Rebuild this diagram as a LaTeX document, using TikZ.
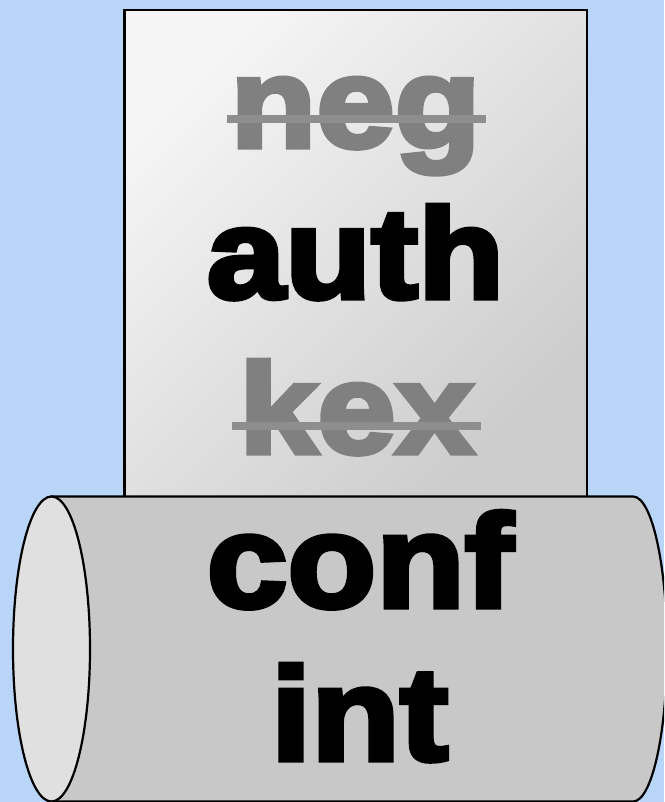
\documentclass[tikz,border=0pt]{standalone}
\usepackage{fontspec}
\setmainfont{Liberation Sans}[BoldFeatures={FakeBold=4,FakeStretch=1.1}]
\definecolor{bgblue}{RGB}{185,213,248}
\definecolor{rectlight}{RGB}{245,245,245}
\definecolor{rectdark}{RGB}{204,204,204}
\definecolor{cylbody}{RGB}{200,200,200}
\definecolor{cylface}{RGB}{224,224,224}
\definecolor{struckgray}{RGB}{128,128,128}
\definecolor{strikegray}{RGB}{142,142,142}
\tikzset{
  bigword/.style={anchor=base, inner sep=0pt, font=\bfseries\fontsize{128}{128}\selectfont},
  cylword/.style={anchor=base, inner sep=0pt, font=\bfseries\fontsize{132}{132}\selectfont},
  struck/.style={bigword, text=struckgray},
  strikeline/.style={draw=strikegray, line width=8pt},
  outline/.style={draw=black, line width=2.2pt},
}
\begin{document}
\begin{tikzpicture}[x=1pt,y=-1pt]
\useasboundingbox (0,0) rectangle (664,802);
\fill[bgblue] (0,0) rectangle (664,802);
\begin{scope}
\clip (0,0) rectangle (664,802);
% stack box
\shade[top color=rectlight, bottom color=rectdark, shading angle=45] (124.5,10) rectangle (587,497);
\draw[outline] (124.5,10) rectangle (587,497);
% cylinder
\path[fill=cylbody, outline] (51.5,496.5) -- (633,496.5)
  arc[start angle=-90, end angle=90, x radius=34, y radius=152.5] -- (51.5,801.5) -- cycle;
\path[fill=cylface, outline] (51.5,649) ellipse [x radius=38.5, y radius=152.5];
\end{scope}
% words
\node[struck] (neg) at (355.5,147) {neg};
\node[bigword] (auth) at (355.5,298) {auth};
\node[struck] (kex) at (356.5,453) {kex};
\node[cylword] (conf) at (360,607) {conf};
\node[cylword] (int) at (359.5,760) {int};
% strike-throughs
\coordinate (negL) at (227,119);
\coordinate (negR) at (486,119);
\coordinate (kexL) at (232,426);
\coordinate (kexR) at (481,426);
\draw[strikeline] (negL) -- (negR);
\draw[strikeline] (kexL) -- (kexR);
\end{tikzpicture}
\end{document}
